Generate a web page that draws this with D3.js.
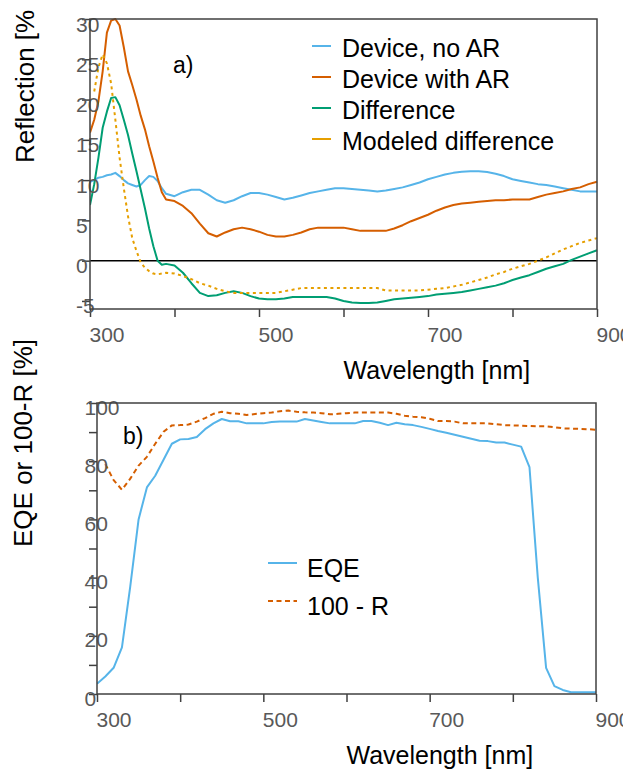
<!DOCTYPE html>
<html>
<head>
<meta charset="utf-8">
<script src="https://cdn.jsdelivr.net/npm/d3@7"></script>
<style>
  body { margin: 0; background: #fff; }
  svg { display: block; font-family: "Liberation Sans", Arial, sans-serif; }
</style>
</head>
<body>
<svg id="chart" width="623" height="774"></svg>
<script>
// panel a) reflection spectra
const wlA = [300,305,310,315,320,325,330,335,340,345,350,355,360,365,370,375,380,385,390,
  400,410,420,430,440,450,460,470,480,490,500,
  510,520,530,540,550,560,570,580,590,600,
  610,620,630,640,650,660,670,680,690,700,
  710,720,730,740,750,760,770,780,790,800,
  810,820,830,840,850,860,870,880,890,900];
const noAR = [9.8,10.0,10.3,10.4,10.6,10.7,10.9,10.5,10.0,9.6,9.4,9.2,9.4,10.0,10.5,10.4,9.9,9.0,8.3,
  8.0,8.5,8.8,8.8,8.2,7.5,7.2,7.5,8.0,8.4,8.4,
  8.2,7.9,7.6,7.8,8.1,8.4,8.6,8.8,9.0,9.0,
  8.9,8.8,8.7,8.6,8.7,8.9,9.1,9.4,9.7,10.1,
  10.4,10.7,10.9,11.05,11.1,11.1,11.0,10.8,10.5,10.1,
  9.9,9.7,9.5,9.4,9.2,9.0,8.8,8.6,8.6,8.6];
const withAR = [15.9,17.5,19.8,23.5,28.3,29.8,30.0,29.2,26.5,23.5,21.8,20.0,18.0,16.3,14.2,12.3,10.3,8.5,7.6,
  7.4,6.8,5.9,4.6,3.4,3.0,3.5,3.9,4.1,3.9,3.6,
  3.2,3.0,3.0,3.2,3.5,3.9,4.1,4.1,4.1,4.1,
  3.9,3.7,3.7,3.7,3.7,4.0,4.4,4.9,5.3,5.7,
  6.2,6.6,6.9,7.1,7.2,7.3,7.4,7.5,7.5,7.6,
  7.6,7.6,7.9,8.2,8.4,8.6,8.9,9.1,9.5,9.8];
const diffR = [6.9,9.5,12.8,16.5,18.5,20.2,20.3,19.3,17.5,15.6,13.3,11.1,8.8,6.5,4.0,1.8,0.0,-0.5,-0.4,
  -0.6,-1.5,-2.8,-4.0,-4.4,-4.3,-4.0,-3.8,-4.0,-4.4,-4.7,
  -4.8,-4.8,-4.7,-4.5,-4.5,-4.5,-4.5,-4.5,-4.7,-5.0,
  -5.2,-5.25,-5.25,-5.2,-5.0,-4.8,-4.7,-4.6,-4.5,-4.4,
  -4.2,-4.1,-4.0,-3.9,-3.7,-3.5,-3.3,-3.1,-2.8,-2.4,
  -2.1,-1.8,-1.4,-1.0,-0.7,-0.4,0.1,0.5,0.9,1.3];
const modeled = [null,21,24,25.6,24.5,22,17.5,12.8,9,5.5,2.8,1.2,-0.2,-0.9,-1.3,-1.6,-1.7,-1.6,-1.5,
  -1.6,-1.9,-2.3,-2.8,-3.1,-3.5,-3.8,-4.0,-4.0,-4.0,-4.0,
  -4.0,-4.0,-3.8,-3.6,-3.4,-3.4,-3.4,-3.4,-3.4,-3.4,
  -3.4,-3.4,-3.4,-3.4,-3.7,-3.7,-3.7,-3.7,-3.7,-3.6,
  -3.5,-3.4,-3.2,-3.0,-2.7,-2.4,-2.1,-1.7,-1.4,-1.0,
  -0.7,-0.4,0.0,0.4,0.9,1.4,1.8,2.2,2.5,2.8];
const legendA = ["Device, no AR", "Device with AR", "Difference", "Modeled difference"];

// panel b) EQE and 100-R
const wlB = [300,310,320,330,340,350,360,370,380,390,
  400,410,420,430,440,450,460,470,480,490,
  500,510,520,530,540,550,560,570,580,590,
  600,610,620,630,640,650,660,670,680,690,
  700,710,720,730,740,750,760,770,780,790,
  800,810,820,830,840,850,860,870,880,890,900];
const eqe = [3.5,6,9,16,37,60,71,75,80.5,86,
  87.5,87.6,88.3,91,93,94.5,93.7,93.7,93,93,
  93,93.5,93.6,93.6,93.6,94.5,94,93.5,93,93,
  93,93,93.8,93.8,93.2,92.4,93.2,92.7,92.4,91.8,
  91.1,90.4,89.8,89.1,88.4,87.7,87,86.9,86.4,86.4,
  85.7,85,78,40,9,2.7,1.4,0.6,0.6,0.6,0.6];
const hundredMinusR = [null,79,73.5,70.2,74,78.5,81.5,86,90.1,92.3,
  92.4,92.6,93.6,94.8,96.3,97,96.5,96.3,95.9,96.2,
  96.5,96.7,97.2,97.4,97,96.8,96.7,96.5,96.1,96.3,
  96.5,96.7,96.7,96.7,96.7,96.7,96.3,95.6,95.3,95.1,
  94.6,93.8,93.8,93.6,93,93,93,93,92.7,92.4,
  92.3,92.2,92.1,92,92,91.7,91.3,91.2,91.1,91,90.8];
const legendB = ["EQE", "100 - R"];

const xTicks = [300,400,500,600,700,800,900];
const xTickLabels = [300,500,700,900];
const yTicksA = [-5,0,5,10,15,20,25,30];
const yTicksB = [0,10,20,30,40,50,60,70,80,90,100];
const yTickLabelsB = [0,20,40,60,80,100];

const cBlue = "#56B4E9", cVerm = "#D55E00", cGreen = "#009E73", cOrange = "#E69F00";
const axisColor = "#404040", tickText = "#595959";

const svg = d3.select("#chart");
svg.append("rect").attr("width", 623).attr("height", 774).attr("fill", "#fff");

function drawAxes(g, x, y, box, yTicks, yLabels, yLabelX, yLabelDy) {
  const xa = g.append("g")
      .attr("transform", `translate(0, ${box.bottom})`)
      .call(d3.axisBottom(x).tickValues(xTicks).tickSize(8).tickSizeOuter(0)
        .tickFormat(d => xTickLabels.includes(d) ? String(d) : ""));
  xa.select(".domain").remove();
  xa.attr("color", axisColor).attr("font-family", null).attr("font-size", 21);
  xa.selectAll("line").attr("stroke-width", 1.5);
  xa.selectAll("text").attr("fill", tickText).attr("text-anchor", "start")
      .attr("x", -1).attr("y", 33).attr("dy", null);

  const ya = g.append("g")
      .attr("transform", `translate(${box.left}, 0)`)
      .call(d3.axisLeft(y).tickValues(yTicks).tickSize(8).tickSizeOuter(0)
        .tickFormat(d => yLabels.includes(d) ? String(d) : ""));
  ya.select(".domain").remove();
  ya.attr("color", axisColor).attr("font-family", null).attr("font-size", 21);
  ya.selectAll("line").attr("stroke-width", 1.5);
  ya.selectAll("text").attr("fill", tickText).attr("text-anchor", "start")
      .attr("x", yLabelX).attr("y", yLabelDy).attr("dy", null);

  g.append("rect")
      .attr("x", box.left).attr("y", box.top)
      .attr("width", box.right - box.left).attr("height", box.bottom - box.top)
      .attr("fill", "none").attr("stroke", axisColor).attr("stroke-width", 1.5);
}

function addClip(id, box) {
  svg.append("clipPath").attr("id", id).append("rect")
      .attr("x", box.left).attr("y", box.top - 1)
      .attr("width", box.right - box.left + 1).attr("height", box.bottom - box.top + 2);
}

// ---------- panel a ----------
const boxA = {left: 90, right: 597, top: 19, bottom: 309};
const xA = d3.scaleLinear().domain([300, 900]).range([boxA.left, boxA.right]);
const yA = d3.scaleLinear().domain([-6, 30]).range([boxA.bottom, boxA.top]);
addClip("clipA", boxA);
const gA = svg.append("g");

gA.append("line")
    .attr("x1", boxA.left).attr("x2", boxA.right)
    .attr("y1", yA(0)).attr("y2", yA(0))
    .attr("stroke", "#000").attr("stroke-width", 1.5);

const seriesA = [
  {values: noAR, color: cBlue, dash: null},
  {values: withAR, color: cVerm, dash: null},
  {values: diffR, color: cGreen, dash: null},
  {values: modeled, color: cOrange, dash: "3,3.5"}
];
const lineA = vals => d3.line()
    .defined((d, i) => vals[i] !== null)
    .x((d, i) => xA(wlA[i]))
    .y((d, i) => yA(vals[i]))(wlA);

const linesA = gA.append("g").attr("clip-path", "url(#clipA)");
seriesA.forEach(s => {
  linesA.append("path")
      .attr("d", lineA(s.values))
      .attr("fill", "none").attr("stroke", s.color).attr("stroke-width", 2)
      .attr("stroke-dasharray", s.dash)
      .attr("stroke-linejoin", "round");
});

drawAxes(gA, xA, yA, boxA, yTicksA, yTicksA, -14, 12);

// legend a
const legA = gA.append("g");
legendA.forEach((name, i) => {
  const ly = 46 + i * 31;
  legA.append("line").attr("x1", 312).attr("x2", 331).attr("y1", ly).attr("y2", ly)
      .attr("stroke", seriesA[i].color).attr("stroke-width", 2);
  legA.append("text").attr("x", 342).attr("y", ly + 11).attr("font-size", 25)
      .attr("fill", "#000").text(name);
});
gA.append("text").attr("x", 173).attr("y", 73).attr("font-size", 23).text("a)");

gA.append("text")
    .attr("transform", "translate(34, 163) rotate(-90)")
    .attr("font-size", 26).attr("fill", "#000")
    .text("Reflection [%");
gA.append("text")
    .attr("x", xA(600)).attr("y", boxA.bottom + 70)
    .attr("font-size", 25).attr("fill", "#000")
    .text("Wavelength [nm]");

// ---------- panel b ----------
const boxB = {left: 97, right: 596, top: 403, bottom: 694};
const xB = d3.scaleLinear().domain([300, 900]).range([boxB.left, boxB.right]);
const yB = d3.scaleLinear().domain([0, 100]).range([boxB.bottom, boxB.top]);
addClip("clipB", boxB);
const gB = svg.append("g");

const seriesB = [
  {values: eqe, color: cBlue, dash: null},
  {values: hundredMinusR, color: cVerm, dash: "5,3.5"}
];
const lineB = vals => d3.line()
    .defined((d, i) => vals[i] !== null)
    .x((d, i) => xB(wlB[i]))
    .y((d, i) => yB(vals[i]))(wlB);

const linesB = gB.append("g").attr("clip-path", "url(#clipB)");
seriesB.forEach(s => {
  linesB.append("path")
      .attr("d", lineB(s.values))
      .attr("fill", "none").attr("stroke", s.color).attr("stroke-width", 2)
      .attr("stroke-dasharray", s.dash)
      .attr("stroke-linejoin", "round");
});

drawAxes(gB, xB, yB, boxB, yTicksB, yTickLabelsB, -12.5, 11);

const legB = gB.append("g");
legendB.forEach((name, i) => {
  const ly = 563 + i * 38;
  legB.append("line").attr("x1", 268).attr("x2", 297).attr("y1", ly).attr("y2", ly)
      .attr("stroke", seriesB[i].color).attr("stroke-width", 2)
      .attr("stroke-dasharray", seriesB[i].dash);
  legB.append("text").attr("x", 307).attr("y", ly + 14).attr("font-size", 25)
      .attr("fill", "#000").text(name);
});
gB.append("text").attr("x", 123).attr("y", 444).attr("font-size", 23).text("b)");

gB.append("text")
    .attr("transform", "translate(32, 547) rotate(-90)")
    .attr("font-size", 26).attr("fill", "#000")
    .text("EQE or 100-R [%]");
gB.append("text")
    .attr("x", xB(600)).attr("y", boxB.bottom + 70)
    .attr("font-size", 25).attr("fill", "#000")
    .text("Wavelength [nm]");
</script>
</body>
</html>
